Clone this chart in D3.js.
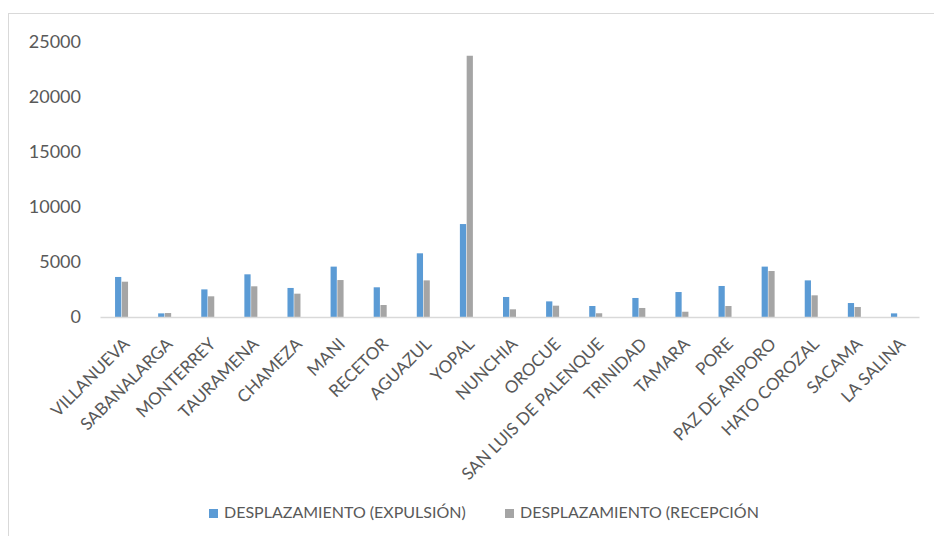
<!DOCTYPE html>
<html>
<head>
<meta charset="utf-8">
<script src="https://cdn.jsdelivr.net/npm/d3@7/dist/d3.min.js"></script>
<style>
  html, body { margin: 0; padding: 0; background: #fff; }
  svg { display: block; font-family: Lato, "Open Sans", sans-serif; }
</style>
</head>
<body>
<svg id="chart" width="934" height="536"></svg>
<script>
// Municipios de Casanare
const municipios = [
  "VILLANUEVA", "SABANALARGA", "MONTERREY", "TAURAMENA", "CHAMEZA", "MANI",
  "RECETOR", "AGUAZUL", "YOPAL", "NUNCHIA", "OROCUE", "SAN LUIS DE PALENQUE",
  "TRINIDAD", "TAMARA", "PORE", "PAZ DE ARIPORO", "HATO COROZAL", "SACAMA", "LA SALINA"
];
// Personas desplazadas por municipio
const expulsion = [3640, 330, 2510, 3880, 2640, 4580, 2700, 5790, 8450, 1820, 1420, 1000, 1730, 2270, 2820, 4580, 3330, 1270, 330];
const recepcion = [3210, 360, 1880, 2790, 2120, 3360, 1090, 3330, 23750, 700, 1030, 340, 820, 480, 1000, 4180, 1970, 910, 0];
const yTicks = [0, 5000, 10000, 15000, 20000, 25000];
const seriesNames = ["DESPLAZAMIENTO (EXPULSIÓN)", "DESPLAZAMIENTO (RECEPCIÓN"];
const seriesColors = ["#5b9bd5", "#a5a5a5"];

const svg = d3.select("#chart");
const plot = { left: 100, right: 919, top: 42, bottom: 317 };

// chart frame
svg.append("rect")
  .attr("x", 8.5).attr("y", 13.5)
  .attr("width", 940).attr("height", 540)
  .attr("fill", "#fff").attr("stroke", "#d9d9d9").attr("stroke-width", 1);

const x = d3.scaleBand().domain(municipios).range([plot.left, plot.right]).padding(0);
const y = d3.scaleLinear().domain([0, 25000]).range([plot.bottom, plot.top]);
const xs = d3.scaleBand().domain([0, 1]).range([-6.5, 6.5]).paddingInner(0.08);

// y axis labels (no line, no gridlines)
const yAxis = d3.axisLeft(y).tickValues(yTicks).tickSize(0).tickPadding(0).tickFormat(d3.format("d"));
const gy = svg.append("g").attr("transform", "translate(81,0)").call(yAxis);
gy.select(".domain").remove();
gy.selectAll("text").attr("fill", "#595959").style("font-size", "18px").style("font-family", "Lato, sans-serif");

// bars
const data = municipios.map((m, i) => ({ m, vals: [expulsion[i], recepcion[i]] }));
const groups = svg.append("g").selectAll("g").data(data).join("g")
  .attr("transform", d => `translate(${x(d.m) + x.bandwidth() / 2},0)`);
groups.selectAll("rect").data(d => d.vals.map((v, k) => ({ v, k }))).join("rect")
  .attr("x", d => xs(d.k))
  .attr("width", xs.bandwidth())
  .attr("y", d => y(d.v))
  .attr("height", d => y(0) - y(d.v))
  .attr("fill", d => seriesColors[d.k]);

// x axis
const xAxis = d3.axisBottom(x).tickSize(0).tickPadding(0);
const gx = svg.append("g").attr("transform", `translate(0,${plot.bottom})`).call(xAxis);
gx.select(".domain").attr("stroke", "#d9d9d9").attr("stroke-width", 1.5);
gx.selectAll("text")
  .attr("fill", "#595959")
  .style("font-size", "17px").style("font-family", "Lato, sans-serif")
  .attr("text-anchor", "end")
  .attr("dy", null).attr("y", null)
  .attr("transform", "translate(6,25) rotate(-45)")
  .attr("dominant-baseline", "middle");

// legend
const legend = svg.append("g");
const lx = [209, 505];
seriesNames.forEach((name, i) => {
  legend.append("rect").attr("x", lx[i]).attr("y", 509).attr("width", 9).attr("height", 9).attr("fill", seriesColors[i]);
  legend.append("text").attr("x", lx[i] + 15).attr("y", 514).attr("dominant-baseline", "middle")
    .attr("fill", "#595959").style("font-size", "16px").text(name);
});
</script>
</body>
</html>
